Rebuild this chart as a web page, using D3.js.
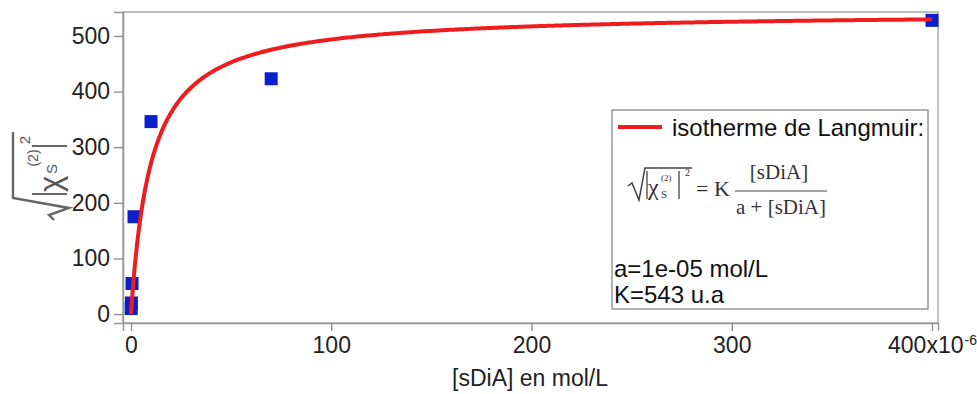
<!DOCTYPE html>
<html><head><meta charset="utf-8">
<script src="https://cdn.jsdelivr.net/npm/d3@7"></script>
<style>
body{margin:0;background:#fff;}
svg{display:block;}
text{font-family:"Liberation Sans",Arial,sans-serif;}
</style></head>
<body><svg id="c" width="977" height="394"></svg>
<script>
// data (x in µmol/L, i.e. ×10^-6 mol/L)
const xValues = [0.1, 0.2, 0.5, 1.5, 10, 70, 400];
const yValues = [10, 20, 55, 175, 346, 423, 528];
const xTicks = [0, 100, 200, 300, 400];
const xTickLabels = ["0", "100", "200", "300", "400x10"];
const yTicks = [0, 100, 200, 300, 400, 500];
// Langmuir fit parameters (a in µmol/L)
const K = 543;
const a = 10;
const legendLabel = "isotherme de Langmuir:";
const paramLabels = ["a=1e-05 mol/L", "K=543 u.a"];
const xTitle = "[sDiA] en mol/L";

const svg = d3.select("#c");
const L = 123, R = 938, T = 12, B = 323;
const x = d3.scaleLinear().domain([-4, 403]).range([L, R]);
const y = d3.scaleLinear().domain([-16, 543]).range([B, T]);

// frame
svg.append("rect").attr("x", L).attr("y", T).attr("width", R - L).attr("height", B - T)
  .attr("fill", "none").attr("stroke", "#aaa").attr("stroke-width", 1.5);

// axes
const xAxis = svg.append("g").attr("transform", `translate(0,${B})`)
  .call(d3.axisBottom(x).tickValues(xTicks).tickSize(8).tickPadding(6)
    .tickFormat((d, i) => xTickLabels[i]));
const yAxis = svg.append("g").attr("transform", `translate(${L},0)`)
  .call(d3.axisLeft(y).tickValues(yTicks).tickSize(9).tickPadding(4));
[xAxis, yAxis].forEach(g => {
  g.select(".domain").attr("stroke", "#999").attr("stroke-width", 1.5);
  g.selectAll(".tick line").attr("stroke", "#888").attr("stroke-width", 1.3);
  g.selectAll(".tick text").attr("fill", "#222").style("font-size", "23px")
    .style("font-family", '"Liberation Sans",Arial,sans-serif');
});
// superscript -6 on last x label
xAxis.selectAll(".tick text").filter(d => d === 400)
  .append("tspan").attr("dx", "1").attr("dy", "-0.6em").style("font-size", "14px").text("-6");

// x title
svg.append("text").attr("x", 530).attr("y", 386).attr("text-anchor", "middle")
  .attr("fill", "#222").style("font-size", "23px").text(xTitle);

// y title: sqrt(|chi_S^(2)|^2)
const yt = svg.append("g").attr("transform", "translate(0,220) rotate(-90)")
  .attr("fill", "#555").attr("stroke", "#666");
yt.append("path").attr("d", "M0,54 L5,49 L12,69 L22,13 L88,13")
  .attr("fill", "none").attr("stroke-width", 2.4);
yt.append("line").attr("x1", 26).attr("x2", 26).attr("y1", 32).attr("y2", 67).attr("stroke-width", 2);
yt.append("line").attr("x1", 74).attr("x2", 74).attr("y1", 32).attr("y2", 67).attr("stroke-width", 2);
yt.append("text").attr("x", 28).attr("y", 61).attr("stroke", "none").style("font-size", "31px").text("χ");
yt.append("text").attr("x", 46).attr("y", 57).attr("stroke", "none").style("font-size", "15px").text("S");
yt.append("text").attr("x", 62).attr("y", 38).attr("text-anchor", "middle").attr("stroke", "none").style("font-size", "14px").text("(2)");
yt.append("text").attr("x", 80).attr("y", 30).attr("text-anchor", "middle").attr("stroke", "none").style("font-size", "15px").text("2");

// points
svg.append("g").selectAll("rect").data(xValues.map((d, i) => [d, yValues[i]])).join("rect")
  .attr("x", d => x(d[0]) - 6.5).attr("y", d => y(d[1]) - 6.5)
  .attr("width", 13).attr("height", 13).attr("fill", "#0a20cc");

// Langmuir curve
const curveX = d3.range(0, 2, 0.05).concat(d3.range(2, 400.001, 1));
const line = d3.line().x(d => x(d)).y(d => y(K * d / (a + d)));
svg.append("path").datum(curveX).attr("d", line)
  .attr("fill", "none").attr("stroke", "#ee1c1c").attr("stroke-width", 4);

// legend
const lg = svg.append("g");
lg.append("rect").attr("x", 612).attr("y", 110).attr("width", 316).attr("height", 199)
  .attr("fill", "#fff").attr("stroke", "#888").attr("stroke-width", 1.3);
lg.append("line").attr("x1", 618).attr("x2", 662).attr("y1", 127).attr("y2", 127)
  .attr("stroke", "#ee1c1c").attr("stroke-width", 4);
lg.append("text").attr("x", 672).attr("y", 136).attr("fill", "#111").style("font-size", "24px").text(legendLabel);
lg.selectAll("text.p").data(paramLabels).join("text").attr("class", "p")
  .attr("x", 614).attr("y", (d, i) => 277 + i * 26).attr("fill", "#111")
  .style("font-size", "24px").text(d => d);

// formula (serif)
const serif = '"Liberation Serif","Times New Roman",serif';
const fm = lg.append("g").attr("fill", "#333").attr("stroke", "#444");
fm.append("path").attr("d", "M628,186 L632,183 L639,200 L645,168 L692,168")
  .attr("fill", "none").attr("stroke-width", 1.5);
fm.append("line").attr("x1", 647).attr("x2", 647).attr("y1", 171).attr("y2", 199).attr("stroke-width", 1.3);
fm.append("line").attr("x1", 679).attr("x2", 679).attr("y1", 171).attr("y2", 199).attr("stroke-width", 1.3);
fm.append("text").attr("x", 648).attr("y", 195).attr("stroke", "none").style("font-size", "24px").style("font-family", serif).text("χ");
fm.append("text").attr("x", 661).attr("y", 198).attr("stroke", "none").style("font-size", "11px").style("font-family", serif).text("S");
fm.append("text").attr("x", 661).attr("y", 181).attr("stroke", "none").style("font-size", "9px").style("font-family", serif).text("(2)");
fm.append("text").attr("x", 685).attr("y", 176).attr("stroke", "none").style("font-size", "10px").style("font-family", serif).text("2");
fm.append("text").attr("x", 696).attr("y", 196).attr("stroke", "none").style("font-size", "22px").style("font-family", serif).text("= K");
fm.append("text").attr("x", 779).attr("y", 179).attr("text-anchor", "middle").attr("stroke", "none").style("font-size", "21px").style("font-family", serif).text("[sDiA]");
fm.append("line").attr("x1", 735).attr("x2", 827).attr("y1", 191).attr("y2", 191).attr("stroke-width", 1.2);
fm.append("text").attr("x", 781).attr("y", 214).attr("text-anchor", "middle").attr("stroke", "none").style("font-size", "21px").style("font-family", serif).text("a + [sDiA]");
</script></body></html>
